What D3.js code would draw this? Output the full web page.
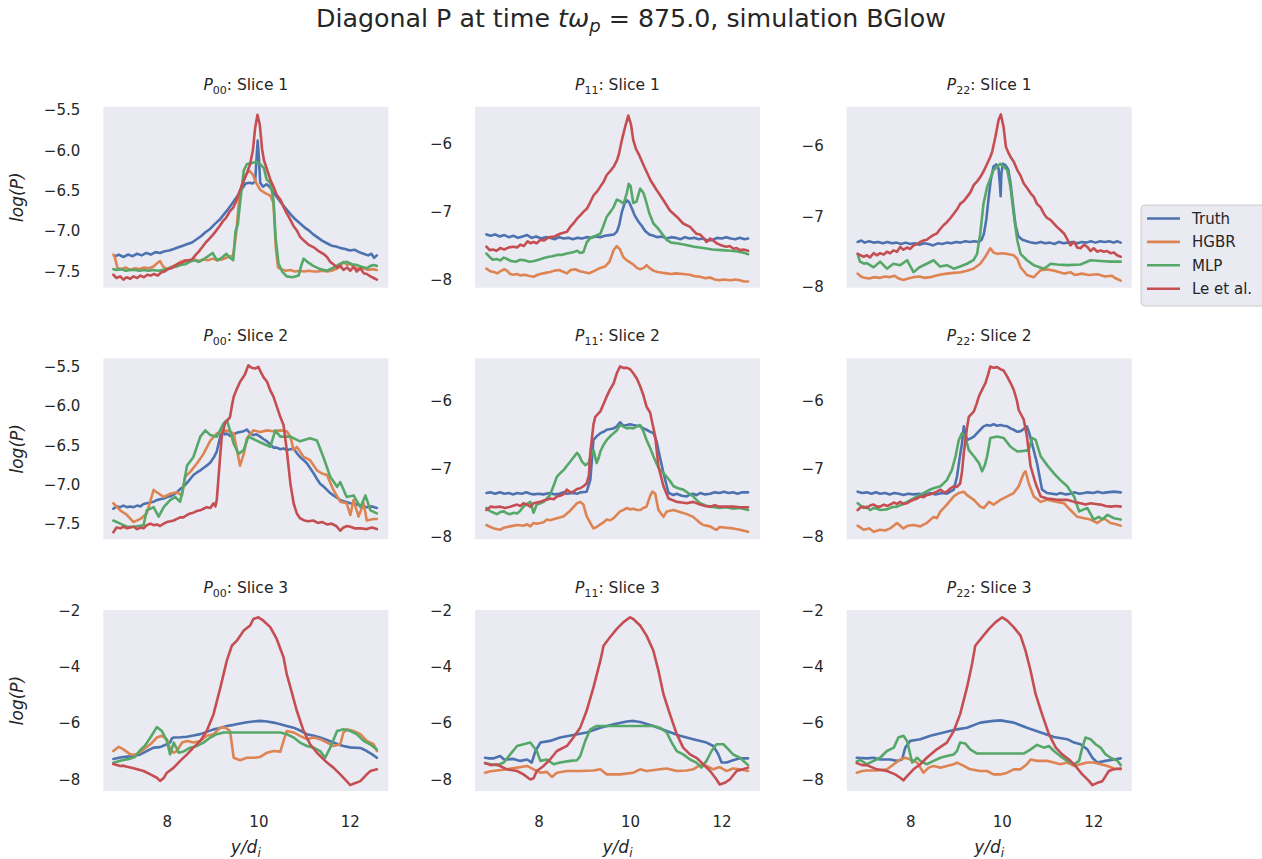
<!DOCTYPE html>
<html>
<head>
<meta charset="utf-8">
<script src="https://cdnjs.cloudflare.com/ajax/libs/d3/7.8.5/d3.min.js"></script>
<style>
  body { margin: 0; background: #fff; }
  svg { display: block; font-family: "DejaVu Sans", sans-serif; }
</style>
</head>
<body>
<script>
const w = 1262;
const h = 859;

// series / panel labels
const seriesNames = ["Truth", "HGBR", "MLP", "Le et al."];
const colors = ["#4C72B0", "#DD8452", "#55A868", "#C44E52"];
const components = ["00", "11", "22"];
const sliceLabels = ["Slice 1", "Slice 2", "Slice 3"];

// axis limits and ticks, by row then column
const xLimits = [6.61, 12.84];
const xTickValues = [8, 10, 12];
const yLimits = [
  [[-7.70, -5.46], [-8.11, -5.46], [-8.01, -5.44]],
  [[-7.70, -5.39], [-8.04, -5.38], [-8.04, -5.38]],
  [[-8.41, -1.98], [-8.41, -1.98], [-8.41, -1.98]]
];
const yTickValues = [
  [[-7.5, -7, -6.5, -6, -5.5], [-8, -7, -6], [-8, -7, -6]],
  [[-7.5, -7, -6.5, -6, -5.5], [-8, -7, -6], [-8, -7, -6]],
  [[-8, -6, -4, -2], [-8, -6, -4, -2], [-8, -6, -4, -2]]
];

// ---- P00, slice 1 ----
const truth00_1 = [[6.87,-7.31],[6.95,-7.29],[7.05,-7.32],[7.15,-7.29],[7.25,-7.31],[7.35,-7.28],[7.45,-7.30],[7.55,-7.27],[7.65,-7.29],[7.75,-7.26],[7.85,-7.27],[7.95,-7.25],[8.05,-7.24],[8.15,-7.22],[8.25,-7.20],[8.35,-7.18],[8.45,-7.16],[8.55,-7.14],[8.65,-7.10],[8.75,-7.06],[8.85,-7.01],[8.95,-6.97],[9.05,-6.91],[9.15,-6.86],[9.25,-6.79],[9.35,-6.72],[9.45,-6.64],[9.55,-6.56],[9.65,-6.47],[9.72,-6.41],[9.8,-6.40],[9.88,-6.41],[9.93,-6.38],[9.96,-6.10],[9.985,-5.88],[10.01,-6.08],[10.04,-6.40],[10.1,-6.45],[10.18,-6.42],[10.26,-6.46],[10.34,-6.53],[10.42,-6.59],[10.5,-6.65],[10.6,-6.72],[10.7,-6.79],[10.8,-6.85],[10.9,-6.90],[11.0,-6.95],[11.1,-6.99],[11.2,-7.04],[11.3,-7.08],[11.4,-7.12],[11.5,-7.15],[11.6,-7.18],[11.7,-7.19],[11.8,-7.21],[11.9,-7.22],[12.0,-7.24],[12.1,-7.23],[12.2,-7.26],[12.3,-7.28],[12.4,-7.30],[12.47,-7.28],[12.53,-7.33],[12.59,-7.30]];
const hgbr00_1 = [[6.83,-7.29],[6.87,-7.34],[6.92,-7.46],[7.0,-7.47],[7.1,-7.45],[7.2,-7.48],[7.3,-7.46],[7.4,-7.47],[7.5,-7.45],[7.6,-7.46],[7.7,-7.44],[7.78,-7.40],[7.85,-7.37],[7.92,-7.44],[8.0,-7.47],[8.1,-7.44],[8.2,-7.42],[8.3,-7.38],[8.4,-7.36],[8.5,-7.37],[8.6,-7.35],[8.7,-7.37],[8.8,-7.35],[8.9,-7.36],[9.0,-7.34],[9.1,-7.36],[9.2,-7.35],[9.3,-7.33],[9.45,-7.30],[9.52,-7.00],[9.58,-6.60],[9.65,-6.40],[9.73,-6.30],[9.8,-6.25],[9.88,-6.30],[9.95,-6.40],[10.04,-6.49],[10.15,-6.53],[10.26,-6.56],[10.33,-6.65],[10.38,-7.20],[10.43,-7.45],[10.5,-7.47],[10.6,-7.49],[10.7,-7.48],[10.8,-7.50],[10.9,-7.49],[11.0,-7.50],[11.1,-7.49],[11.2,-7.50],[11.3,-7.50],[11.4,-7.49],[11.5,-7.50],[11.6,-7.49],[11.7,-7.47],[11.78,-7.44],[11.86,-7.38],[11.94,-7.42],[12.0,-7.40],[12.1,-7.45],[12.2,-7.47],[12.3,-7.46],[12.4,-7.48],[12.5,-7.47],[12.59,-7.48]];
const mlp00_1 = [[6.83,-7.47],[6.9,-7.48],[7.0,-7.47],[7.1,-7.49],[7.2,-7.48],[7.3,-7.48],[7.4,-7.49],[7.5,-7.48],[7.6,-7.49],[7.7,-7.48],[7.8,-7.49],[7.9,-7.48],[8.0,-7.47],[8.1,-7.45],[8.2,-7.44],[8.3,-7.42],[8.4,-7.41],[8.5,-7.38],[8.6,-7.36],[8.7,-7.38],[8.8,-7.35],[8.9,-7.31],[9.0,-7.27],[9.05,-7.32],[9.1,-7.36],[9.2,-7.33],[9.3,-7.28],[9.38,-7.33],[9.45,-7.36],[9.5,-7.00],[9.55,-6.92],[9.6,-6.65],[9.68,-6.25],[9.75,-6.17],[9.85,-6.16],[9.95,-6.14],[10.04,-6.17],[10.12,-6.22],[10.18,-6.36],[10.26,-6.40],[10.33,-6.61],[10.38,-7.10],[10.44,-7.40],[10.52,-7.50],[10.62,-7.56],[10.75,-7.57],[10.88,-7.55],[10.94,-7.42],[10.99,-7.34],[11.07,-7.38],[11.2,-7.43],[11.35,-7.47],[11.5,-7.49],[11.65,-7.45],[11.8,-7.40],[11.93,-7.38],[12.05,-7.41],[12.15,-7.42],[12.25,-7.44],[12.37,-7.46],[12.45,-7.43],[12.52,-7.42],[12.59,-7.43]];
const le00_1 = [[6.83,-7.54],[6.9,-7.58],[6.98,-7.56],[7.05,-7.60],[7.12,-7.57],[7.2,-7.59],[7.27,-7.56],[7.35,-7.58],[7.42,-7.55],[7.5,-7.57],[7.57,-7.54],[7.64,-7.55],[7.72,-7.53],[7.8,-7.55],[7.88,-7.51],[7.95,-7.50],[8.02,-7.47],[8.1,-7.46],[8.17,-7.43],[8.25,-7.40],[8.33,-7.39],[8.4,-7.37],[8.47,-7.36],[8.55,-7.35],[8.62,-7.30],[8.7,-7.25],[8.77,-7.20],[8.85,-7.14],[8.92,-7.10],[9.0,-7.05],[9.07,-7.00],[9.15,-6.94],[9.22,-6.88],[9.3,-6.83],[9.37,-6.76],[9.45,-6.71],[9.52,-6.62],[9.6,-6.49],[9.68,-6.38],[9.75,-6.28],[9.82,-6.17],[9.88,-6.00],[9.93,-5.72],[9.98,-5.56],[10.03,-5.68],[10.08,-5.98],[10.12,-6.12],[10.19,-6.24],[10.26,-6.36],[10.33,-6.45],[10.4,-6.55],[10.48,-6.61],[10.55,-6.70],[10.62,-6.78],[10.7,-6.86],[10.77,-6.94],[10.84,-6.99],[10.91,-7.07],[11.0,-7.12],[11.1,-7.17],[11.21,-7.20],[11.3,-7.24],[11.42,-7.28],[11.5,-7.32],[11.57,-7.38],[11.64,-7.41],[11.72,-7.45],[11.79,-7.43],[11.86,-7.48],[11.94,-7.45],[12.01,-7.49],[12.08,-7.44],[12.15,-7.50],[12.23,-7.46],[12.3,-7.52],[12.37,-7.53],[12.45,-7.56],[12.52,-7.58],[12.59,-7.60]];

// ---- P11, slice 1 ----
const truth11_1 = [[6.86,-7.33],[6.95,-7.35],[7.05,-7.33],[7.15,-7.36],[7.25,-7.34],[7.35,-7.37],[7.45,-7.35],[7.55,-7.38],[7.65,-7.36],[7.75,-7.34],[7.85,-7.38],[7.95,-7.36],[8.05,-7.39],[8.15,-7.37],[8.25,-7.38],[8.35,-7.40],[8.45,-7.37],[8.55,-7.39],[8.65,-7.38],[8.75,-7.40],[8.85,-7.38],[8.95,-7.39],[9.05,-7.37],[9.15,-7.38],[9.25,-7.36],[9.35,-7.37],[9.45,-7.35],[9.55,-7.34],[9.65,-7.33],[9.71,-7.29],[9.76,-7.20],[9.82,-7.00],[9.88,-6.88],[9.93,-6.83],[9.98,-6.86],[10.04,-6.95],[10.1,-7.05],[10.18,-7.14],[10.25,-7.20],[10.33,-7.28],[10.42,-7.33],[10.51,-7.35],[10.6,-7.37],[10.7,-7.36],[10.8,-7.39],[10.9,-7.37],[11.0,-7.38],[11.1,-7.40],[11.2,-7.37],[11.3,-7.39],[11.4,-7.38],[11.5,-7.40],[11.6,-7.39],[11.7,-7.42],[11.8,-7.41],[11.9,-7.38],[12.0,-7.39],[12.1,-7.37],[12.2,-7.39],[12.3,-7.40],[12.4,-7.38],[12.5,-7.40],[12.58,-7.39]];
const hgbr11_1 = [[6.86,-7.83],[6.95,-7.87],[7.02,-7.88],[7.1,-7.90],[7.16,-7.87],[7.25,-7.84],[7.31,-7.86],[7.38,-7.91],[7.45,-7.92],[7.53,-7.91],[7.6,-7.93],[7.7,-7.92],[7.8,-7.94],[7.89,-7.95],[7.98,-7.92],[8.1,-7.90],[8.25,-7.88],[8.35,-7.86],[8.45,-7.85],[8.55,-7.88],[8.62,-7.90],[8.7,-7.85],[8.8,-7.84],[8.9,-7.87],[8.98,-7.88],[9.1,-7.90],[9.2,-7.87],[9.35,-7.82],[9.45,-7.80],[9.55,-7.73],[9.64,-7.56],[9.71,-7.50],[9.78,-7.55],[9.85,-7.66],[9.93,-7.71],[10.0,-7.74],[10.07,-7.77],[10.15,-7.82],[10.22,-7.84],[10.3,-7.82],[10.36,-7.78],[10.42,-7.82],[10.51,-7.86],[10.6,-7.88],[10.7,-7.89],[10.8,-7.90],[10.9,-7.91],[11.0,-7.90],[11.16,-7.91],[11.3,-7.92],[11.4,-7.94],[11.53,-7.95],[11.65,-7.97],[11.75,-7.96],[11.85,-7.99],[11.95,-8.0],[12.05,-7.99],[12.2,-8.0],[12.3,-7.99],[12.4,-8.0],[12.5,-8.02],[12.58,-8.02]];
const mlp11_1 = [[6.86,-7.61],[6.93,-7.66],[7.0,-7.70],[7.08,-7.69],[7.16,-7.71],[7.24,-7.67],[7.31,-7.69],[7.4,-7.72],[7.5,-7.73],[7.6,-7.70],[7.7,-7.71],[7.8,-7.73],[7.9,-7.72],[8.0,-7.70],[8.1,-7.68],[8.2,-7.66],[8.3,-7.65],[8.4,-7.63],[8.5,-7.63],[8.62,-7.61],[8.75,-7.59],[8.85,-7.57],[8.9,-7.60],[8.98,-7.59],[9.05,-7.45],[9.13,-7.38],[9.25,-7.35],[9.35,-7.32],[9.42,-7.20],[9.49,-7.07],[9.57,-7.0],[9.64,-6.93],[9.71,-6.82],[9.78,-6.84],[9.86,-6.88],[9.93,-6.72],[9.97,-6.59],[10.01,-6.62],[10.07,-6.87],[10.14,-6.85],[10.22,-6.66],[10.29,-6.72],[10.33,-6.80],[10.42,-7.02],[10.51,-7.17],[10.62,-7.25],[10.8,-7.41],[10.9,-7.45],[11.02,-7.46],[11.2,-7.48],[11.4,-7.51],[11.6,-7.53],[11.8,-7.55],[12.0,-7.56],[12.2,-7.57],[12.35,-7.58],[12.5,-7.60],[12.58,-7.62]];
const le11_1 = [[6.86,-7.51],[6.93,-7.56],[7.0,-7.55],[7.08,-7.57],[7.16,-7.53],[7.25,-7.55],[7.35,-7.52],[7.45,-7.51],[7.53,-7.52],[7.6,-7.48],[7.68,-7.50],[7.76,-7.43],[7.82,-7.46],[7.89,-7.44],[7.96,-7.46],[8.04,-7.41],[8.12,-7.42],[8.2,-7.38],[8.25,-7.37],[8.35,-7.36],[8.47,-7.32],[8.62,-7.29],[8.69,-7.22],[8.76,-7.17],[8.84,-7.10],[8.91,-7.05],[8.98,-7.00],[9.06,-6.95],[9.13,-6.86],[9.2,-6.76],[9.28,-6.70],[9.35,-6.63],[9.42,-6.56],[9.49,-6.46],[9.57,-6.40],[9.64,-6.34],[9.71,-6.25],[9.75,-6.17],[9.82,-5.95],[9.89,-5.76],[9.96,-5.59],[10.02,-5.72],[10.07,-5.95],[10.13,-6.08],[10.2,-6.17],[10.31,-6.34],[10.45,-6.54],[10.58,-6.68],[10.73,-6.83],[10.87,-6.98],[11.02,-7.07],[11.16,-7.17],[11.31,-7.22],[11.38,-7.27],[11.45,-7.32],[11.53,-7.33],[11.6,-7.38],[11.67,-7.44],[11.75,-7.39],[11.82,-7.42],[11.89,-7.46],[11.96,-7.48],[12.04,-7.50],[12.11,-7.51],[12.18,-7.50],[12.26,-7.54],[12.33,-7.53],[12.4,-7.56],[12.48,-7.55],[12.58,-7.57]];

// ---- P22, slice 1 ----
const truth22_1 = [[6.85,-7.36],[6.93,-7.34],[7.0,-7.37],[7.1,-7.35],[7.2,-7.37],[7.3,-7.36],[7.4,-7.38],[7.5,-7.36],[7.6,-7.38],[7.7,-7.37],[7.8,-7.39],[7.9,-7.37],[8.0,-7.39],[8.1,-7.38],[8.2,-7.40],[8.3,-7.38],[8.4,-7.39],[8.5,-7.41],[8.6,-7.38],[8.7,-7.39],[8.8,-7.37],[8.9,-7.38],[9.0,-7.36],[9.1,-7.37],[9.2,-7.35],[9.3,-7.36],[9.4,-7.35],[9.5,-7.36],[9.56,-7.33],[9.61,-7.24],[9.66,-7.05],[9.71,-6.75],[9.76,-6.48],[9.82,-6.29],[9.88,-6.26],[9.93,-6.32],[9.96,-6.55],[9.975,-6.71],[9.99,-6.40],[10.02,-6.25],[10.08,-6.27],[10.14,-6.33],[10.19,-6.52],[10.24,-6.80],[10.3,-7.12],[10.36,-7.28],[10.45,-7.33],[10.55,-7.35],[10.65,-7.37],[10.75,-7.38],[10.85,-7.36],[10.95,-7.38],[11.05,-7.37],[11.15,-7.39],[11.25,-7.36],[11.35,-7.38],[11.45,-7.37],[11.55,-7.36],[11.65,-7.38],[11.75,-7.36],[11.85,-7.37],[11.95,-7.35],[12.05,-7.37],[12.15,-7.35],[12.25,-7.36],[12.35,-7.35],[12.45,-7.37],[12.52,-7.35],[12.6,-7.37]];
const hgbr22_1 = [[6.85,-7.81],[6.92,-7.85],[7.0,-7.87],[7.1,-7.88],[7.2,-7.86],[7.34,-7.87],[7.45,-7.85],[7.55,-7.86],[7.65,-7.84],[7.75,-7.88],[7.85,-7.90],[7.95,-7.88],[8.07,-7.86],[8.2,-7.85],[8.3,-7.87],[8.44,-7.86],[8.55,-7.84],[8.7,-7.82],[8.8,-7.81],[8.95,-7.80],[9.1,-7.79],[9.24,-7.77],[9.38,-7.74],[9.53,-7.67],[9.64,-7.57],[9.75,-7.45],[9.82,-7.51],[9.9,-7.53],[10.0,-7.52],[10.12,-7.53],[10.26,-7.55],[10.34,-7.60],[10.41,-7.72],[10.55,-7.83],[10.7,-7.86],[10.85,-7.76],[10.99,-7.75],[11.15,-7.77],[11.36,-7.81],[11.5,-7.79],[11.6,-7.83],[11.75,-7.81],[11.9,-7.83],[12.1,-7.82],[12.25,-7.85],[12.4,-7.84],[12.5,-7.88],[12.6,-7.91]];
const mlp22_1 = [[6.85,-7.53],[6.9,-7.64],[7.0,-7.67],[7.05,-7.66],[7.2,-7.72],[7.34,-7.64],[7.49,-7.74],[7.63,-7.67],[7.78,-7.69],[7.93,-7.62],[8.07,-7.79],[8.2,-7.72],[8.36,-7.67],[8.51,-7.62],[8.65,-7.71],[8.8,-7.69],[8.95,-7.74],[9.09,-7.71],[9.24,-7.67],[9.38,-7.62],[9.46,-7.53],[9.53,-7.24],[9.6,-6.82],[9.68,-6.58],[9.82,-6.34],[9.97,-6.25],[10.12,-6.34],[10.19,-6.58],[10.26,-6.96],[10.34,-7.34],[10.41,-7.53],[10.55,-7.62],[10.7,-7.69],[10.92,-7.74],[11.07,-7.67],[11.21,-7.68],[11.43,-7.69],[11.72,-7.68],[11.94,-7.62],[12.16,-7.63],[12.38,-7.64],[12.6,-7.64]];
const le22_1 = [[6.85,-7.53],[6.98,-7.57],[7.05,-7.55],[7.12,-7.58],[7.2,-7.52],[7.27,-7.55],[7.34,-7.52],[7.42,-7.54],[7.49,-7.50],[7.56,-7.52],[7.63,-7.48],[7.71,-7.50],[7.78,-7.43],[7.85,-7.47],[7.93,-7.44],[8.0,-7.46],[8.07,-7.41],[8.15,-7.39],[8.22,-7.36],[8.29,-7.34],[8.36,-7.33],[8.44,-7.29],[8.51,-7.26],[8.58,-7.24],[8.65,-7.18],[8.73,-7.12],[8.8,-7.08],[8.88,-7.02],[8.95,-6.96],[9.02,-6.90],[9.09,-6.82],[9.17,-6.78],[9.24,-6.72],[9.31,-6.66],[9.39,-6.55],[9.46,-6.50],[9.53,-6.44],[9.6,-6.36],[9.68,-6.25],[9.75,-6.15],[9.79,-6.08],[9.86,-5.87],[9.93,-5.63],[9.98,-5.55],[10.04,-5.73],[10.09,-6.01],[10.15,-6.10],[10.19,-6.15],[10.26,-6.22],[10.34,-6.34],[10.41,-6.42],[10.48,-6.53],[10.55,-6.59],[10.63,-6.67],[10.7,-6.72],[10.77,-6.82],[10.85,-6.87],[10.92,-6.96],[10.99,-7.02],[11.07,-7.05],[11.14,-7.10],[11.21,-7.15],[11.28,-7.19],[11.36,-7.24],[11.43,-7.32],[11.5,-7.41],[11.58,-7.36],[11.65,-7.44],[11.72,-7.45],[11.8,-7.40],[11.87,-7.43],[11.94,-7.49],[12.01,-7.45],[12.09,-7.50],[12.16,-7.48],[12.23,-7.50],[12.3,-7.49],[12.38,-7.52],[12.45,-7.51],[12.52,-7.55],[12.6,-7.57]];

// ---- P00, slice 2 ----
const truth00_2 = [[6.83,-7.31],[6.9,-7.28],[6.98,-7.29],[7.05,-7.27],[7.13,-7.29],[7.2,-7.28],[7.27,-7.29],[7.35,-7.27],[7.42,-7.28],[7.49,-7.25],[7.56,-7.24],[7.64,-7.23],[7.71,-7.22],[7.78,-7.20],[7.85,-7.19],[7.93,-7.18],[8.0,-7.16],[8.08,-7.15],[8.15,-7.13],[8.22,-7.10],[8.29,-7.06],[8.36,-7.03],[8.44,-6.98],[8.51,-6.93],[8.58,-6.88],[8.65,-6.85],[8.73,-6.82],[8.8,-6.79],[8.87,-6.76],[8.95,-6.72],[9.02,-6.66],[9.09,-6.58],[9.13,-6.48],[9.17,-6.38],[9.2,-6.31],[9.27,-6.36],[9.31,-6.35],[9.38,-6.38],[9.46,-6.36],[9.53,-6.34],[9.6,-6.33],[9.68,-6.32],[9.75,-6.30],[9.82,-6.35],[9.89,-6.37],[9.96,-6.36],[10.04,-6.39],[10.11,-6.42],[10.19,-6.45],[10.26,-6.49],[10.33,-6.53],[10.4,-6.53],[10.48,-6.55],[10.55,-6.54],[10.62,-6.56],[10.7,-6.55],[10.77,-6.54],[10.84,-6.60],[10.91,-6.65],[10.99,-6.69],[11.06,-6.73],[11.13,-6.79],[11.21,-6.86],[11.28,-6.93],[11.35,-6.99],[11.43,-7.03],[11.5,-7.07],[11.57,-7.11],[11.64,-7.14],[11.72,-7.17],[11.79,-7.20],[11.9,-7.22],[12.01,-7.24],[12.12,-7.25],[12.23,-7.27],[12.37,-7.29],[12.48,-7.28],[12.59,-7.30]];
const hgbr00_2 = [[6.83,-7.24],[6.91,-7.29],[6.98,-7.33],[7.13,-7.39],[7.27,-7.48],[7.42,-7.44],[7.56,-7.37],[7.71,-7.07],[7.78,-7.10],[7.93,-7.16],[8.07,-7.12],[8.22,-7.10],[8.33,-7.14],[8.4,-6.90],[8.51,-6.84],[8.66,-6.73],[8.8,-6.61],[8.95,-6.44],[9.09,-6.35],[9.2,-6.33],[9.31,-6.31],[9.46,-6.35],[9.53,-6.56],[9.6,-6.76],[9.68,-6.61],[9.75,-6.41],[9.89,-6.31],[10.04,-6.33],[10.19,-6.31],[10.33,-6.32],[10.48,-6.31],[10.62,-6.32],[10.7,-6.39],[10.77,-6.56],[10.84,-6.52],[10.99,-6.65],[11.13,-6.69],[11.28,-6.82],[11.39,-6.86],[11.5,-6.88],[11.64,-7.07],[11.79,-7.22],[11.93,-7.24],[12.01,-7.39],[12.08,-7.20],[12.19,-7.41],[12.3,-7.24],[12.37,-7.46],[12.52,-7.44],[12.59,-7.44]];
const mlp00_2 = [[6.83,-7.46],[6.98,-7.50],[7.13,-7.54],[7.27,-7.54],[7.49,-7.52],[7.56,-7.33],[7.71,-7.29],[7.82,-7.41],[7.93,-7.29],[8.07,-7.20],[8.18,-7.16],[8.29,-7.22],[8.36,-7.03],[8.44,-6.76],[8.58,-6.65],[8.73,-6.39],[8.84,-6.31],[8.95,-6.37],[9.09,-6.39],[9.24,-6.22],[9.31,-6.18],[9.38,-6.31],[9.46,-6.48],[9.57,-6.61],[9.68,-6.56],[9.78,-6.39],[9.96,-6.44],[10.11,-6.48],[10.26,-6.52],[10.37,-6.31],[10.48,-6.39],[10.7,-6.39],[10.91,-6.45],[11.13,-6.41],[11.28,-6.44],[11.42,-6.65],[11.57,-6.90],[11.72,-7.03],[11.79,-6.97],[11.93,-7.16],[12.08,-7.14],[12.23,-7.29],[12.34,-7.14],[12.45,-7.33],[12.59,-7.37]];
const le00_2 = [[6.83,-7.61],[6.9,-7.55],[6.98,-7.56],[7.05,-7.54],[7.13,-7.56],[7.2,-7.55],[7.27,-7.54],[7.35,-7.57],[7.42,-7.55],[7.49,-7.56],[7.56,-7.52],[7.64,-7.50],[7.71,-7.52],[7.78,-7.51],[7.85,-7.53],[7.93,-7.50],[8.0,-7.48],[8.08,-7.47],[8.15,-7.46],[8.22,-7.44],[8.29,-7.42],[8.36,-7.42],[8.44,-7.39],[8.51,-7.37],[8.58,-7.36],[8.65,-7.34],[8.73,-7.33],[8.8,-7.31],[8.87,-7.29],[8.95,-7.30],[9.02,-7.24],[9.06,-7.28],[9.09,-7.20],[9.13,-6.90],[9.17,-6.60],[9.2,-6.39],[9.27,-6.22],[9.38,-6.14],[9.42,-6.00],[9.46,-5.88],[9.53,-5.78],[9.6,-5.69],[9.67,-5.63],[9.71,-5.59],[9.78,-5.48],[9.85,-5.51],[9.93,-5.52],[10.0,-5.50],[10.04,-5.55],[10.11,-5.63],[10.19,-5.69],[10.26,-5.80],[10.33,-5.88],[10.4,-6.00],[10.48,-6.14],[10.55,-6.24],[10.62,-6.56],[10.7,-6.99],[10.77,-7.24],[10.84,-7.37],[10.91,-7.43],[11.0,-7.46],[11.1,-7.47],[11.2,-7.46],[11.3,-7.49],[11.4,-7.48],[11.5,-7.51],[11.6,-7.50],[11.7,-7.53],[11.79,-7.59],[11.86,-7.55],[11.94,-7.53],[12.01,-7.54],[12.1,-7.56],[12.23,-7.56],[12.37,-7.57],[12.48,-7.55],[12.59,-7.57]];

// ---- P11, slice 2 ----
const truth11_2 = [[6.86,-7.36],[6.95,-7.35],[7.05,-7.37],[7.16,-7.35],[7.25,-7.37],[7.35,-7.36],[7.45,-7.38],[7.53,-7.36],[7.63,-7.37],[7.73,-7.35],[7.82,-7.37],[7.89,-7.38],[8.0,-7.37],[8.1,-7.38],[8.25,-7.36],[8.35,-7.38],[8.45,-7.37],[8.55,-7.35],[8.62,-7.37],[8.75,-7.36],[8.85,-7.37],[8.91,-7.35],[9.05,-7.34],[9.13,-7.17],[9.2,-6.58],[9.28,-6.52],[9.35,-6.48],[9.42,-6.46],[9.49,-6.43],[9.57,-6.42],[9.64,-6.41],[9.71,-6.38],[9.78,-6.32],[9.85,-6.37],[9.93,-6.36],[10.0,-6.35],[10.07,-6.36],[10.15,-6.37],[10.22,-6.38],[10.29,-6.41],[10.36,-6.43],[10.44,-6.46],[10.51,-6.48],[10.58,-6.60],[10.62,-6.73],[10.73,-7.07],[10.84,-7.36],[10.95,-7.39],[11.02,-7.37],[11.13,-7.40],[11.24,-7.41],[11.31,-7.38],[11.38,-7.37],[11.45,-7.39],[11.53,-7.36],[11.64,-7.38],[11.75,-7.37],[11.85,-7.35],[11.96,-7.36],[12.05,-7.34],[12.15,-7.36],[12.25,-7.35],[12.35,-7.37],[12.45,-7.35],[12.58,-7.35]];
const hgbr11_2 = [[6.86,-7.83],[6.95,-7.86],[7.02,-7.88],[7.16,-7.90],[7.24,-7.87],[7.38,-7.85],[7.53,-7.83],[7.67,-7.84],[7.75,-7.82],[7.82,-7.85],[7.89,-7.80],[7.96,-7.81],[8.04,-7.80],[8.11,-7.79],[8.18,-7.75],[8.25,-7.76],[8.4,-7.73],[8.55,-7.70],[8.62,-7.66],[8.69,-7.62],[8.77,-7.56],[8.84,-7.51],[8.91,-7.49],[8.98,-7.53],[9.05,-7.70],[9.13,-7.80],[9.2,-7.88],[9.27,-7.86],[9.35,-7.82],[9.42,-7.79],[9.49,-7.75],[9.57,-7.76],[9.64,-7.73],[9.71,-7.68],[9.78,-7.63],[9.85,-7.61],[9.93,-7.58],[10.0,-7.60],[10.07,-7.59],[10.15,-7.61],[10.22,-7.61],[10.29,-7.58],[10.36,-7.56],[10.44,-7.40],[10.49,-7.34],[10.55,-7.37],[10.62,-7.61],[10.73,-7.71],[10.8,-7.63],[10.95,-7.61],[11.09,-7.64],[11.24,-7.67],[11.38,-7.71],[11.53,-7.80],[11.6,-7.83],[11.75,-7.85],[11.82,-7.88],[11.89,-7.90],[11.96,-7.86],[12.1,-7.87],[12.25,-7.88],[12.4,-7.90],[12.58,-7.93]];
const mlp11_2 = [[6.86,-7.58],[6.95,-7.63],[7.02,-7.65],[7.09,-7.67],[7.16,-7.64],[7.24,-7.63],[7.31,-7.66],[7.38,-7.67],[7.46,-7.65],[7.53,-7.66],[7.6,-7.62],[7.67,-7.56],[7.75,-7.52],[7.82,-7.49],[7.89,-7.65],[7.96,-7.53],[8.04,-7.51],[8.11,-7.49],[8.18,-7.44],[8.25,-7.39],[8.33,-7.25],[8.4,-7.12],[8.47,-7.07],[8.55,-7.02],[8.62,-6.96],[8.69,-6.90],[8.77,-6.83],[8.84,-6.77],[8.88,-6.80],[8.95,-6.90],[9.02,-6.95],[9.09,-6.92],[9.14,-6.82],[9.2,-6.73],[9.27,-6.92],[9.31,-6.85],[9.35,-6.75],[9.42,-6.65],[9.49,-6.58],[9.56,-6.53],[9.64,-6.48],[9.71,-6.44],[9.78,-6.36],[9.85,-6.38],[9.93,-6.41],[10.0,-6.40],[10.07,-6.41],[10.15,-6.38],[10.22,-6.36],[10.29,-6.45],[10.36,-6.58],[10.44,-6.70],[10.51,-6.82],[10.58,-6.93],[10.65,-7.02],[10.73,-7.07],[10.8,-7.12],[10.87,-7.18],[10.95,-7.26],[11.05,-7.29],[11.16,-7.31],[11.27,-7.36],[11.38,-7.41],[11.45,-7.46],[11.53,-7.51],[11.64,-7.54],[11.75,-7.56],[11.85,-7.57],[11.96,-7.58],[12.1,-7.57],[12.25,-7.59],[12.4,-7.58],[12.58,-7.61]];
const le11_2 = [[6.86,-7.61],[6.95,-7.56],[7.05,-7.57],[7.16,-7.56],[7.27,-7.58],[7.38,-7.56],[7.53,-7.53],[7.6,-7.55],[7.67,-7.51],[7.75,-7.53],[7.82,-7.56],[7.89,-7.51],[7.96,-7.50],[8.04,-7.49],[8.11,-7.47],[8.18,-7.46],[8.25,-7.44],[8.33,-7.45],[8.4,-7.41],[8.47,-7.40],[8.54,-7.38],[8.62,-7.31],[8.69,-7.35],[8.76,-7.34],[8.84,-7.30],[8.91,-7.29],[8.98,-7.26],[9.05,-7.22],[9.1,-7.10],[9.13,-6.77],[9.2,-6.35],[9.24,-6.24],[9.35,-6.16],[9.42,-6.05],[9.49,-5.94],[9.56,-5.84],[9.64,-5.75],[9.71,-5.60],[9.78,-5.50],[9.85,-5.52],[9.93,-5.52],[10.0,-5.54],[10.07,-5.60],[10.15,-5.68],[10.22,-5.79],[10.29,-5.92],[10.36,-6.09],[10.44,-6.18],[10.47,-6.28],[10.55,-6.53],[10.62,-6.97],[10.73,-7.26],[10.84,-7.44],[10.95,-7.47],[11.02,-7.49],[11.13,-7.50],[11.24,-7.51],[11.38,-7.49],[11.53,-7.53],[11.64,-7.55],[11.75,-7.56],[11.85,-7.54],[11.96,-7.56],[12.1,-7.56],[12.25,-7.56],[12.4,-7.57],[12.58,-7.57]];

// ---- P22, slice 2 ----
const truth22_2 = [[6.85,-7.34],[6.95,-7.36],[7.05,-7.35],[7.15,-7.37],[7.25,-7.35],[7.34,-7.37],[7.45,-7.36],[7.55,-7.38],[7.65,-7.36],[7.75,-7.37],[7.85,-7.39],[7.95,-7.37],[8.07,-7.38],[8.2,-7.37],[8.3,-7.39],[8.44,-7.36],[8.55,-7.38],[8.7,-7.36],[8.8,-7.37],[8.95,-7.31],[9.02,-7.12],[9.09,-6.80],[9.13,-6.63],[9.17,-6.38],[9.24,-6.58],[9.31,-6.56],[9.39,-6.53],[9.46,-6.48],[9.53,-6.43],[9.6,-6.38],[9.68,-6.36],[9.75,-6.37],[9.82,-6.35],[9.9,-6.37],[9.97,-6.36],[10.04,-6.37],[10.12,-6.38],[10.19,-6.41],[10.26,-6.43],[10.34,-6.46],[10.41,-6.45],[10.48,-6.42],[10.55,-6.38],[10.6,-6.48],[10.66,-6.63],[10.77,-6.92],[10.88,-7.31],[10.99,-7.36],[11.1,-7.37],[11.2,-7.38],[11.28,-7.36],[11.4,-7.38],[11.5,-7.37],[11.58,-7.35],[11.7,-7.37],[11.8,-7.36],[11.87,-7.35],[12.0,-7.36],[12.1,-7.34],[12.2,-7.36],[12.3,-7.35],[12.45,-7.34],[12.6,-7.35]];
const hgbr22_2 = [[6.85,-7.84],[6.98,-7.90],[7.1,-7.88],[7.2,-7.93],[7.34,-7.90],[7.45,-7.91],[7.56,-7.88],[7.71,-7.80],[7.85,-7.88],[7.95,-7.84],[8.07,-7.83],[8.22,-7.85],[8.36,-7.80],[8.51,-7.71],[8.58,-7.73],[8.66,-7.63],[8.8,-7.53],[8.95,-7.41],[9.06,-7.36],[9.17,-7.34],[9.24,-7.39],[9.39,-7.46],[9.53,-7.56],[9.61,-7.58],[9.72,-7.49],[9.82,-7.53],[9.97,-7.46],[10.12,-7.41],[10.26,-7.36],[10.37,-7.26],[10.48,-7.07],[10.52,-7.04],[10.59,-7.22],[10.7,-7.41],[10.85,-7.49],[10.99,-7.46],[11.21,-7.49],[11.36,-7.51],[11.5,-7.61],[11.65,-7.71],[11.8,-7.73],[11.94,-7.75],[12.09,-7.80],[12.23,-7.73],[12.38,-7.80],[12.5,-7.82],[12.6,-7.84]];
const mlp22_2 = [[6.85,-7.51],[6.98,-7.58],[7.05,-7.56],[7.12,-7.61],[7.2,-7.58],[7.27,-7.59],[7.35,-7.61],[7.49,-7.60],[7.6,-7.57],[7.71,-7.56],[7.82,-7.53],[7.93,-7.49],[8.07,-7.44],[8.18,-7.40],[8.29,-7.36],[8.4,-7.32],[8.51,-7.29],[8.66,-7.26],[8.8,-7.17],[8.91,-7.02],[8.99,-6.82],[9.06,-6.58],[9.13,-6.48],[9.2,-6.53],[9.28,-6.73],[9.39,-6.82],[9.5,-6.92],[9.57,-7.04],[9.63,-6.95],[9.68,-6.82],[9.75,-6.55],[9.9,-6.53],[10.04,-6.55],[10.19,-6.68],[10.34,-6.75],[10.48,-6.74],[10.59,-6.73],[10.66,-6.55],[10.74,-6.58],[10.85,-6.82],[10.99,-6.95],[11.14,-7.07],[11.28,-7.17],[11.43,-7.26],[11.58,-7.41],[11.69,-7.63],[11.87,-7.58],[12.01,-7.75],[12.12,-7.71],[12.2,-7.75],[12.31,-7.68],[12.45,-7.73],[12.6,-7.75]];
const le22_2 = [[6.85,-7.61],[6.92,-7.57],[6.98,-7.56],[7.05,-7.58],[7.13,-7.54],[7.2,-7.53],[7.27,-7.56],[7.34,-7.56],[7.42,-7.53],[7.49,-7.55],[7.56,-7.53],[7.64,-7.50],[7.71,-7.52],[7.78,-7.49],[7.85,-7.52],[7.93,-7.51],[8.0,-7.48],[8.07,-7.46],[8.15,-7.44],[8.22,-7.41],[8.29,-7.42],[8.36,-7.39],[8.44,-7.38],[8.51,-7.36],[8.58,-7.34],[8.66,-7.31],[8.73,-7.35],[8.8,-7.34],[8.88,-7.29],[8.95,-7.26],[9.02,-7.27],[9.09,-7.22],[9.13,-7.05],[9.17,-6.77],[9.24,-6.40],[9.28,-6.24],[9.39,-6.16],[9.45,-6.05],[9.5,-5.94],[9.57,-5.84],[9.64,-5.75],[9.7,-5.62],[9.75,-5.50],[9.82,-5.52],[9.9,-5.51],[9.97,-5.54],[10.04,-5.56],[10.12,-5.65],[10.19,-5.74],[10.26,-5.84],[10.33,-6.0],[10.37,-6.14],[10.48,-6.28],[10.55,-6.53],[10.63,-6.97],[10.74,-7.22],[10.85,-7.41],[10.99,-7.44],[11.1,-7.45],[11.21,-7.46],[11.32,-7.46],[11.43,-7.46],[11.58,-7.49],[11.72,-7.51],[11.83,-7.53],[11.94,-7.51],[12.05,-7.52],[12.16,-7.53],[12.27,-7.55],[12.38,-7.56],[12.5,-7.55],[12.6,-7.56]];

// ---- P00, slice 3 ----
const truth00_3 = [[6.83,-7.27],[6.98,-7.22],[7.13,-7.19],[7.27,-7.17],[7.42,-7.11],[7.56,-6.99],[7.71,-6.87],[7.85,-6.85],[8.0,-6.75],[8.07,-6.69],[8.11,-6.54],[8.15,-6.51],[8.3,-6.50],[8.44,-6.48],[8.58,-6.44],[8.73,-6.39],[8.87,-6.31],[9.02,-6.22],[9.17,-6.17],[9.31,-6.10],[9.46,-6.06],[9.6,-6.01],[9.75,-5.97],[9.89,-5.94],[10.04,-5.92],[10.19,-5.94],[10.33,-5.98],[10.48,-6.04],[10.62,-6.10],[10.77,-6.16],[10.91,-6.26],[11.06,-6.39],[11.21,-6.45],[11.35,-6.51],[11.5,-6.60],[11.64,-6.69],[11.75,-6.76],[11.86,-6.81],[12.0,-6.86],[12.08,-6.87],[12.23,-6.88],[12.37,-6.99],[12.48,-7.10],[12.59,-7.23]];
const hgbr00_3 = [[6.83,-6.99],[6.95,-6.84],[7.05,-6.93],[7.2,-7.11],[7.3,-7.12],[7.4,-7.05],[7.49,-6.93],[7.64,-6.75],[7.78,-6.51],[7.89,-6.45],[8.0,-6.57],[8.07,-6.93],[8.15,-7.05],[8.22,-6.99],[8.33,-6.69],[8.44,-6.63],[8.58,-6.69],[8.73,-6.63],[8.87,-6.45],[9.02,-6.39],[9.17,-6.16],[9.28,-6.16],[9.38,-6.28],[9.46,-7.23],[9.6,-7.32],[9.75,-7.23],[9.89,-7.23],[10.04,-7.20],[10.19,-7.05],[10.33,-6.99],[10.48,-7.01],[10.55,-6.63],[10.62,-6.28],[10.77,-6.33],[10.91,-6.45],[11.06,-6.57],[11.21,-6.51],[11.35,-6.57],[11.5,-6.69],[11.64,-6.81],[11.79,-6.75],[11.86,-6.33],[11.93,-6.22],[12.08,-6.28],[12.23,-6.39],[12.37,-6.63],[12.52,-6.75],[12.59,-6.99]];
const mlp00_3 = [[6.83,-7.41],[7.0,-7.33],[7.2,-7.26],[7.3,-7.20],[7.4,-6.99],[7.52,-6.80],[7.64,-6.51],[7.78,-6.14],[7.89,-6.28],[8.0,-6.63],[8.07,-7.11],[8.15,-6.69],[8.26,-7.05],[8.36,-7.01],[8.51,-6.87],[8.66,-6.81],[8.8,-6.69],[8.95,-6.51],[9.09,-6.39],[9.24,-6.33],[9.46,-6.33],[9.82,-6.33],[10.19,-6.33],[10.48,-6.33],[10.62,-6.39],[10.77,-6.51],[10.91,-6.69],[11.06,-6.81],[11.21,-6.87],[11.35,-6.99],[11.46,-7.23],[11.57,-6.87],[11.72,-6.28],[11.86,-6.22],[12.01,-6.28],[12.15,-6.39],[12.3,-6.63],[12.44,-6.75],[12.59,-6.93]];
const le00_3 = [[6.83,-7.45],[6.98,-7.52],[7.05,-7.51],[7.13,-7.55],[7.27,-7.60],[7.49,-7.70],[7.64,-7.82],[7.78,-7.94],[7.85,-8.05],[7.93,-7.95],[8.0,-7.76],[8.15,-7.58],[8.29,-7.34],[8.44,-7.11],[8.58,-6.87],[8.73,-6.63],[8.87,-6.28],[9.02,-5.68],[9.17,-4.73],[9.31,-3.78],[9.42,-3.25],[9.53,-3.07],[9.68,-2.71],[9.82,-2.53],[9.89,-2.30],[10.0,-2.24],[10.11,-2.36],[10.26,-2.59],[10.4,-3.01],[10.55,-3.66],[10.62,-4.26],[10.7,-4.73],[10.84,-5.56],[10.99,-6.28],[11.13,-6.75],[11.28,-7.05],[11.5,-7.40],[11.64,-7.58],[11.79,-7.82],[11.93,-8.06],[12.01,-8.20],[12.08,-8.15],[12.23,-8.06],[12.37,-7.82],[12.45,-7.70],[12.59,-7.64]];

// ---- P11, slice 3 ----
const truth11_3 = [[6.83,-7.23],[6.92,-7.25],[7.02,-7.25],[7.16,-7.17],[7.24,-7.28],[7.31,-7.29],[7.45,-7.27],[7.6,-7.34],[7.75,-7.29],[7.85,-7.40],[7.93,-6.99],[8.04,-6.69],[8.25,-6.63],[8.47,-6.51],[8.76,-6.42],[9.05,-6.33],[9.35,-6.16],[9.64,-6.04],[9.93,-5.94],[10.07,-5.92],[10.22,-5.96],[10.51,-6.10],[10.8,-6.28],[11.09,-6.45],[11.38,-6.57],[11.67,-6.69],[11.82,-6.81],[11.93,-7.11],[12.0,-7.40],[12.11,-7.40],[12.25,-7.32],[12.4,-7.25],[12.58,-7.25]];
const hgbr11_3 = [[6.83,-7.76],[6.95,-7.71],[7.09,-7.68],[7.31,-7.64],[7.53,-7.58],[7.75,-7.52],[7.89,-7.64],[8.04,-7.76],[8.18,-7.73],[8.29,-7.91],[8.4,-7.76],[8.62,-7.70],[8.91,-7.70],[9.2,-7.68],[9.35,-7.64],[9.49,-7.82],[9.78,-7.82],[10.07,-7.76],[10.22,-7.64],[10.36,-7.70],[10.65,-7.64],[10.8,-7.61],[11.02,-7.70],[11.24,-7.68],[11.38,-7.64],[11.53,-7.49],[11.67,-7.52],[11.82,-7.64],[11.96,-7.56],[12.11,-7.70],[12.25,-7.61],[12.4,-7.64],[12.58,-7.70]];
const mlp11_3 = [[6.83,-7.42],[6.95,-7.46],[7.09,-7.49],[7.24,-7.40],[7.38,-7.11],[7.53,-6.81],[7.67,-6.75],[7.82,-6.69],[7.96,-6.99],[8.04,-7.34],[8.18,-7.29],[8.33,-7.46],[8.47,-7.40],[8.69,-7.34],[8.84,-7.32],[8.91,-7.17],[9.02,-6.63],[9.13,-6.22],[9.27,-6.10],[9.64,-6.10],[10.07,-6.10],[10.51,-6.10],[10.65,-6.16],[10.8,-6.33],[10.91,-6.69],[11.02,-6.99],[11.16,-7.11],[11.31,-7.29],[11.45,-7.40],[11.56,-7.58],[11.67,-7.34],[11.78,-6.99],[11.89,-6.75],[12.04,-6.75],[12.15,-6.93],[12.25,-7.11],[12.4,-7.23],[12.58,-7.49]];
const le11_3 = [[6.83,-7.42],[6.95,-7.49],[7.09,-7.47],[7.31,-7.64],[7.53,-7.70],[7.67,-7.82],[7.82,-8.0],[7.89,-7.96],[7.96,-7.70],[8.11,-7.52],[8.25,-7.29],[8.4,-6.99],[8.62,-6.81],[8.76,-6.51],[8.91,-6.16],[9.05,-5.56],[9.2,-4.73],[9.35,-3.78],[9.42,-3.25],[9.56,-2.95],[9.71,-2.65],[9.85,-2.42],[10.0,-2.24],[10.07,-2.30],[10.22,-2.53],[10.36,-2.89],[10.51,-3.43],[10.62,-4.14],[10.73,-4.97],[10.87,-5.68],[11.02,-6.39],[11.16,-6.87],[11.31,-7.11],[11.45,-7.23],[11.6,-7.46],[11.75,-7.70],[11.89,-8.0],[11.96,-8.18],[12.07,-8.12],[12.18,-8.0],[12.33,-7.70],[12.47,-7.64],[12.58,-7.58]];

// ---- P22, slice 3 ----
const truth22_3 = [[6.83,-7.23],[7.05,-7.25],[7.2,-7.23],[7.34,-7.29],[7.56,-7.29],[7.71,-7.34],[7.82,-7.29],[7.89,-6.87],[8.0,-6.63],[8.22,-6.57],[8.44,-6.45],[8.73,-6.33],[9.02,-6.22],[9.24,-6.16],[9.53,-5.98],[9.82,-5.92],[9.97,-5.90],[10.26,-5.98],[10.55,-6.16],[10.85,-6.33],[11.14,-6.49],[11.43,-6.57],[11.58,-6.69],[11.72,-6.75],[11.87,-6.93],[11.98,-7.23],[12.09,-7.40],[12.27,-7.34],[12.45,-7.29],[12.6,-7.25]];
const hgbr22_3 = [[6.83,-7.76],[6.95,-7.70],[7.05,-7.68],[7.27,-7.68],[7.49,-7.64],[7.64,-7.46],[7.78,-7.29],[7.89,-7.23],[8.0,-7.29],[8.15,-7.40],[8.22,-7.58],[8.29,-7.76],[8.4,-7.58],[8.51,-7.52],[8.66,-7.58],[8.8,-7.52],[8.95,-7.46],[9.02,-7.40],[9.17,-7.52],[9.31,-7.64],[9.53,-7.70],[9.68,-7.70],[9.82,-7.82],[9.97,-7.82],[10.12,-7.76],[10.26,-7.64],[10.41,-7.64],[10.55,-7.46],[10.63,-7.29],[10.77,-7.34],[10.99,-7.34],[11.14,-7.40],[11.28,-7.46],[11.43,-7.40],[11.58,-7.52],[11.72,-7.46],[11.87,-7.40],[12.01,-7.40],[12.16,-7.46],[12.31,-7.52],[12.45,-7.61],[12.6,-7.64]];
const mlp22_3 = [[6.83,-7.36],[6.91,-7.31],[7.05,-7.46],[7.2,-7.34],[7.34,-7.23],[7.49,-6.99],[7.64,-6.87],[7.74,-6.51],[7.85,-6.45],[7.93,-6.63],[8.04,-7.40],[8.15,-7.23],[8.22,-7.34],[8.36,-7.46],[8.51,-7.34],[8.66,-7.23],[8.8,-7.17],[8.95,-7.11],[9.02,-6.99],[9.09,-6.69],[9.2,-6.72],[9.31,-6.93],[9.46,-7.08],[9.8,-7.08],[10.15,-7.08],[10.48,-7.08],[10.63,-6.93],[10.77,-6.77],[10.92,-6.87],[11.03,-6.81],[11.14,-6.99],[11.28,-7.17],[11.43,-7.34],[11.58,-7.46],[11.69,-7.34],[11.76,-6.87],[11.83,-6.51],[11.94,-6.57],[12.05,-6.75],[12.16,-6.87],[12.27,-7.11],[12.38,-7.23],[12.53,-7.34],[12.6,-7.49]];
const le22_3 = [[6.83,-7.42],[6.95,-7.49],[7.05,-7.49],[7.27,-7.64],[7.49,-7.70],[7.67,-7.82],[7.78,-7.94],[7.85,-8.03],[7.93,-7.88],[8.07,-7.64],[8.22,-7.46],[8.36,-7.23],[8.58,-6.93],[8.8,-6.69],[8.95,-6.28],[9.09,-5.68],[9.24,-4.73],[9.35,-3.90],[9.42,-3.25],[9.57,-2.95],[9.72,-2.65],[9.86,-2.42],[10.01,-2.24],[10.12,-2.36],[10.26,-2.59],[10.41,-2.89],[10.52,-3.43],[10.63,-4.14],[10.74,-4.97],[10.88,-5.68],[11.03,-6.39],[11.18,-6.87],[11.32,-7.11],[11.47,-7.29],[11.61,-7.52],[11.76,-7.82],[11.91,-8.06],[11.98,-8.20],[12.09,-8.12],[12.2,-8.06],[12.34,-7.70],[12.45,-7.64],[12.6,-7.61]];

// rows = slices, columns = components; each cell lists series in legend order
const panelSeries = [
  [[truth00_1, hgbr00_1, mlp00_1, le00_1], [truth11_1, hgbr11_1, mlp11_1, le11_1], [truth22_1, hgbr22_1, mlp22_1, le22_1]],
  [[truth00_2, hgbr00_2, mlp00_2, le00_2], [truth11_2, hgbr11_2, mlp11_2, le11_2], [truth22_2, hgbr22_2, mlp22_2, le22_2]],
  [[truth00_3, hgbr00_3, mlp00_3, le00_3], [truth11_3, hgbr11_3, mlp11_3, le11_3], [truth22_3, hgbr22_3, mlp22_3, le22_3]]
];

// layout
const colLeft = [103.3, 475, 846.7];
const rowTop = [106.7, 358.3, 610];
const pw = 285, ph = 181;
const textColor = "#262626";

const svg = d3.select("body")
  .append("svg")
  .attr("width", w)
  .attr("height", h);

// suptitle
const title = svg.append("text")
  .attr("x", w / 2)
  .attr("y", 27)
  .attr("text-anchor", "middle")
  .attr("font-size", 25.3)
  .attr("fill", textColor);
title.append("tspan").text("Diagonal P at time ");
title.append("tspan").attr("font-style", "italic").text("tω");
title.append("tspan").attr("font-style", "italic").attr("font-size", 18).attr("dy", 5).text("p");
title.append("tspan").attr("dy", -5).text(" = 875.0, simulation BGlow");

panelSeries.forEach((row, r) => {
  row.forEach((series, c) => {
    const g = svg.append("g")
      .attr("transform", "translate(" + colLeft[c] + "," + rowTop[r] + ")");

    g.append("rect")
      .attr("width", pw)
      .attr("height", ph)
      .attr("fill", "#EAEAF2");

    const x = d3.scaleLinear().domain(xLimits).range([0, pw]);
    const y = d3.scaleLinear().domain(yLimits[r][c]).range([ph, 0]);

    // y axis
    const fmt = r < 2 && c === 0 ? d3.format(".1f") : d3.format("d");
    const yAxis = g.append("g")
      .call(d3.axisLeft(y).tickValues(yTickValues[r][c]).tickSize(0).tickPadding(23).tickFormat(fmt));
    yAxis.select(".domain").remove();
    yAxis.selectAll("text")
      .attr("font-family", "DejaVu Sans")
      .attr("font-size", 15)
      .attr("fill", textColor);

    // x axis only on the bottom row
    if (r === 2) {
      const xAxis = g.append("g")
        .attr("transform", "translate(0," + ph + ")")
        .call(d3.axisBottom(x).tickValues(xTickValues).tickSize(0).tickPadding(25).tickFormat(d3.format("d")));
      xAxis.select(".domain").remove();
      xAxis.selectAll("text")
        .attr("font-family", "DejaVu Sans")
        .attr("font-size", 15)
        .attr("fill", textColor);

      const xl = g.append("text")
        .attr("x", pw / 2)
        .attr("y", ph + 62)
        .attr("text-anchor", "middle")
        .attr("font-size", 17)
        .attr("font-style", "italic")
        .attr("fill", textColor);
      xl.append("tspan").text("y/d");
      xl.append("tspan").attr("font-size", 12).attr("dy", 4).text("i");
    }

    // y label on first column
    if (c === 0) {
      g.append("text")
        .attr("transform", "translate(" + (17 - colLeft[0]) + "," + (ph / 2) + ") rotate(-90)")
        .attr("text-anchor", "middle")
        .attr("dy", "0.35em")
        .attr("font-size", 17)
        .attr("font-style", "italic")
        .attr("fill", textColor)
        .text("log(P)");
    }

    // panel title
    const t = g.append("text")
      .attr("x", pw / 2)
      .attr("y", -17)
      .attr("text-anchor", "middle")
      .attr("font-size", 15.5)
      .attr("fill", textColor);
    t.append("tspan").attr("font-style", "italic").text("P");
    t.append("tspan").attr("font-size", 11).attr("dy", 4).text(components[c]);
    t.append("tspan").attr("dy", -4).text(": " + sliceLabels[r]);

    // lines
    const line = d3.line()
      .x(d => x(d[0]))
      .y(d => y(d[1]));

    g.selectAll("path.series")
      .data(series)
      .enter()
      .append("path")
      .attr("class", "series")
      .attr("d", d => line(d))
      .attr("fill", "none")
      .attr("stroke", (d, i) => colors[i])
      .attr("stroke-width", 2.6)
      .attr("stroke-linejoin", "round")
      .attr("stroke-linecap", "round");
  });
});

// legend
const legend = svg.append("g").attr("transform", "translate(1141,205)");
legend.append("rect")
  .attr("width", 125)
  .attr("height", 101)
  .attr("rx", 4)
  .attr("fill", "#EAEAF2")
  .attr("stroke", "#cccccc")
  .attr("stroke-width", 1);
seriesNames.forEach((name, i) => {
  const yy = 13.5 + i * 23.4;
  legend.append("line")
    .attr("x1", 6).attr("x2", 39)
    .attr("y1", yy).attr("y2", yy)
    .attr("stroke", colors[i])
    .attr("stroke-width", 2.6);
  legend.append("text")
    .attr("x", 51)
    .attr("y", yy)
    .attr("dy", "0.35em")
    .attr("font-size", 15)
    .attr("fill", textColor)
    .text(name);
});
</script>
</body>
</html>
